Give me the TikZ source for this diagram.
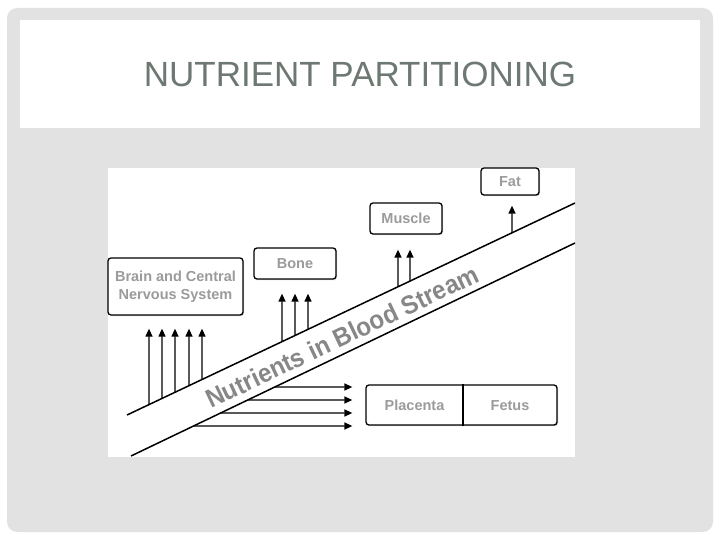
\documentclass[tikz,border=0pt]{standalone}
\usepackage{fontspec}
\setmainfont{Liberation Sans}
\usetikzlibrary{arrows.meta, shadows}
\definecolor{panel}{RGB}{226,226,226}
\definecolor{titlegray}{RGB}{110,120,114}
\definecolor{labelgray}{RGB}{155,155,155}
\definecolor{streamgray}{RGB}{135,135,135}
\tikzset{
  organ/.style={draw, line width=1.3pt, rounded corners=3pt, fill=white,
    drop shadow={shadow xshift=1pt, shadow yshift=-1.2pt, opacity=.35},
    font=\fontsize{14.5}{18}\selectfont\bfseries, text=labelgray, align=center, inner sep=0pt},
  label/.style={font=\fontsize{14.5}{18}\selectfont\bfseries, text=labelgray, inner sep=0pt,
    text height=10.5pt, text depth=0pt},
  feed/.style={line width=1.3pt, -{Triangle[length=8pt,width=7pt]}}
}

\begin{document}
\begin{tikzpicture}[x=1pt, y=-1pt]
    \useasboundingbox (0,0) rectangle (720,540);
    % Slide
    \fill[panel, rounded corners=10pt] (7,8) rectangle (713,532);
    \fill[white] (20,20) rectangle (700,128);
    \node[text=titlegray, font=\fontsize{35}{38}\selectfont] (title) at (360,74) {NUTRIENT PARTITIONING};
    \fill[white] (108,168) rectangle (575,457);
    % Blood stream
    \coordinate (u1) at (127,415);
    \coordinate (u2) at (575,203);
    \coordinate (l1) at (131,456);
    \coordinate (l2) at (575,243);
    \draw[line width=1.5pt] (u1) -- (u2);
    \draw[line width=1.5pt] (l1) -- (l2);
    \node[rotate=25.4, anchor=base west, inner sep=0pt, text=streamgray, font=\fontsize{26}{26}\selectfont\bfseries] (stream) at (211,409) {\scalebox{0.93}[1]{Nutrients in Blood Stream}};
    % Tissues
    \node[organ, minimum width=135pt, minimum height=57pt] (brain) at (175.5,286.5) {Brain and Central\\Nervous System};
    \node[organ, minimum width=82pt, minimum height=31pt] (bone) at (295,263.5) {Bone};
    \node[organ, minimum width=72pt, minimum height=31pt] (muscle) at (406,218.5) {Muscle};
    \node[organ, minimum width=58pt, minimum height=27pt] (fat) at (510,181.5) {Fat};
    \node[organ, minimum width=191pt, minimum height=40pt] (birth) at (461.5,405) {};
    \node[label] (placenta) at (414.5,405) {Placenta};
    \node[label] (fetus) at (510,405) {Fetus};
    \draw[line width=1.3pt] (birth.north -| 463,0) -- (birth.south -| 463,0);
    % Arrow targets
    \coordinate (brainin) at ([yshift=-13pt]brain.south);
    \coordinate (bonein) at ([yshift=-14pt]bone.south);
    \coordinate (musclein) at ([yshift=-15pt]muscle.south);
    \coordinate (fatin) at ([yshift=-10pt]fat.south);
    \coordinate (birthin) at ([xshift=-13pt]birth.west);
    % Nutrient flows
    \foreach \x in {149,162,175,189,202}
        \draw[feed] (intersection of u1--u2 and \x,0--\x,1) -- (\x,0 |- brainin);
    \foreach \x in {282,295,308}
        \draw[feed] (intersection of u1--u2 and \x,0--\x,1) -- (\x,0 |- bonein);
    \foreach \x in {398,410}
        \draw[feed] (intersection of u1--u2 and \x,0--\x,1) -- (\x,0 |- musclein);
    \draw[feed] (intersection of u1--u2 and 512,0--512,1) -- (512,0 |- fatin);
    \foreach \y in {387,400,413,426}
        \draw[feed] (intersection of l1--l2 and 0,\y--1,\y) -- (birthin |- 0,\y);
\end{tikzpicture}
\end{document}
